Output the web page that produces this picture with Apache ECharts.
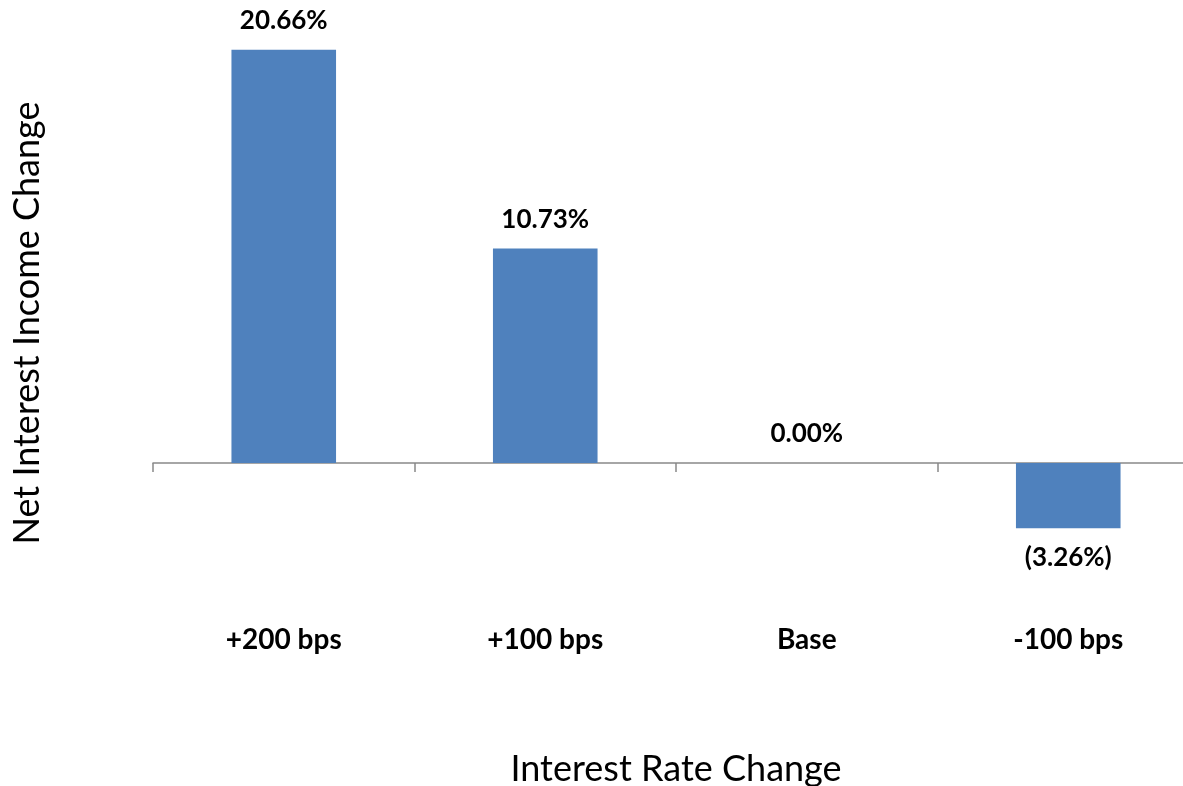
<!DOCTYPE html>
<html>
<head>
<meta charset="utf-8">
<script src="https://cdn.jsdelivr.net/npm/echarts@6/dist/echarts.min.js"></script>
<style>
  html, body { margin: 0; padding: 0; background: #fff; }
  #chart { width: 1183px; height: 786px; }
</style>
</head>
<body>
<div id="chart"></div>
<script>
const categories = ['+200 bps', '+100 bps', 'Base', '-100 bps'];
const niiChange = [20.66, 10.73, 0.0, -3.26];

const fontFamily = 'Lato, "Open Sans", sans-serif';

// negative values sit below the bar, the rest above it
const barData = niiChange.map((v) => ({
  value: v,
  label: { position: v < 0 ? 'bottom' : 'top' },
}));

const chart = echarts.init(document.getElementById('chart'));
const option = {
  animation: false,
  grid: {
    left: 153,
    right: -16,
    top: 23,
    bottom: 163,
    outerBoundsMode: 'none',
    containLabel: false,
  },
  xAxis: {
    type: 'category',
    data: categories,
    name: 'Interest Rate Change',
    nameLocation: 'middle',
    nameGap: 128,
    nameTextStyle: { fontFamily, fontSize: 36, color: '#000' },
    axisLine: { onZero: true, lineStyle: { color: '#898989', width: 1.5 } },
    axisTick: { show: true, length: 9, lineStyle: { color: '#898989', width: 1.5 } },
    axisLabel: {
      margin: 3,
      fontFamily,
      fontSize: 28,
      fontWeight: 'bold',
      color: '#000',
    },
  },
  yAxis: {
    type: 'value',
    min: -8,
    max: 22,
    name: 'Net Interest Income Change',
    nameLocation: 'middle',
    nameGap: 108,
    nameTextStyle: { fontFamily, fontSize: 36, color: '#000' },
    axisLine: { show: false },
    axisTick: { show: false },
    axisLabel: { show: false },
    splitLine: { show: false },
  },
  series: [
    {
      type: 'bar',
      data: barData,
      barWidth: '40%',
      itemStyle: { color: '#4f81bd' },
      label: {
        show: true,
        distance: 16,
        fontFamily,
        fontSize: 26,
        fontWeight: 'bold',
        color: '#000',
        formatter: (p) => {
          const v = p.value;
          return v < 0 ? '(' + Math.abs(v).toFixed(2) + '%)' : v.toFixed(2) + '%';
        },
      },
    },
  ],
};
chart.setOption(option);
</script>
</body>
</html>
